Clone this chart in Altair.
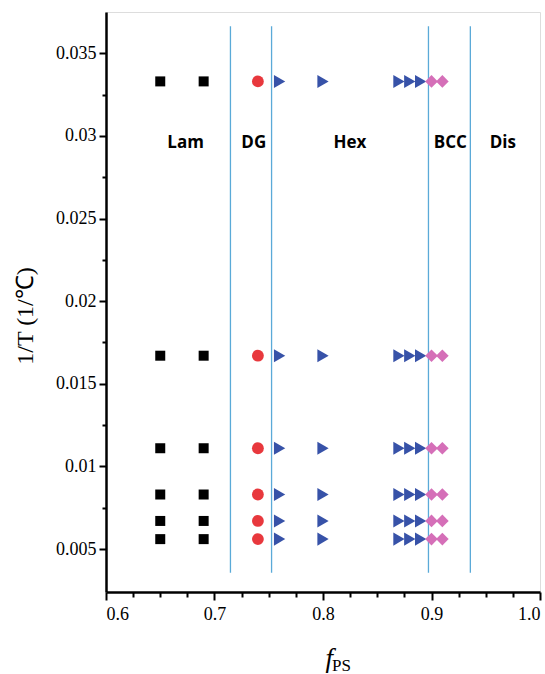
import altair as alt
import pandas as pd

# ---- data ----
inv_T = [0.0333, 0.0167, 0.0111, 0.0083, 0.0067, 0.0056]   # 1/T rows (30..180 C)
lam_x = [0.65, 0.69]
dg_x = [0.74]
hex_x = [0.76, 0.80, 0.87, 0.88, 0.89]
bcc_x = [0.90, 0.91]

boundary_x = [0.7147, 0.7526, 0.8972, 0.9358]
boundary_y0 = 0.00356
boundary_y1 = 0.03664

phase_names = ["Lam", "DG", "Hex", "BCC", "Dis"]
phase_label_x = [0.6734, 0.7362, 0.8248, 0.9174, 0.9658]
phase_label_y = 0.02955

x_major = [0.6, 0.7, 0.8, 0.9, 1.0]
x_minor = [0.625, 0.65, 0.675, 0.725, 0.75, 0.775, 0.825, 0.85, 0.875,
           0.925, 0.95, 0.975]
y_major = [0.005, 0.01, 0.015, 0.02, 0.025, 0.03, 0.035]
y_minor = [0.0075, 0.0125, 0.0175, 0.0225, 0.0275, 0.0325]

X_DOMAIN = [0.6, 1.0]
Y_DOMAIN = [0.0024, 0.0375]
W, H = 434, 580
SERIF = "Liberation Serif"

xs = alt.Scale(domain=X_DOMAIN, nice=False, zero=False)
ys = alt.Scale(domain=Y_DOMAIN, nice=False, zero=False)


def pts(xvals):
    return pd.DataFrame([{"f": x, "invT": y} for y in inv_T for x in xvals])


def point_layer(xvals, shape, color, size):
    return alt.Chart(pts(xvals)).mark_point(
        shape=shape, filled=True, color=color, opacity=1, size=size, strokeWidth=0
    ).encode(
        x=alt.X("f:Q", scale=xs, axis=None),
        y=alt.Y("invT:Q", scale=ys, axis=None),
    )


lam = point_layer(lam_x, "square", "#000000", 100)
dg = point_layer(dg_x, "circle", "#e8383d", 140)
hexl = point_layer(hex_x, "triangle-right", "#3752a8", 170)
bcc = point_layer(bcc_x, "diamond", "#d56fb8", 160)

rules_df = pd.DataFrame({"bx": boundary_x, "y0": [boundary_y0] * 4, "y1": [boundary_y1] * 4})
rules = alt.Chart(rules_df).mark_rule(color="#5aaad8", strokeWidth=1.3).encode(
    x=alt.X("bx:Q", scale=xs, axis=None),
    y=alt.Y("y0:Q", scale=ys, axis=None),
    y2="y1:Q",
)

lab_df = pd.DataFrame({"name": phase_names, "lx": phase_label_x, "ly": [phase_label_y] * 5})
labels = alt.Chart(lab_df).mark_text(
    font="Open Sans", fontWeight="bold", fontSize=17, color="black", baseline="middle"
).encode(
    x=alt.X("lx:Q", scale=xs, axis=None),
    y=alt.Y("ly:Q", scale=ys, axis=None),
    text="name:N",
)

axis_common = dict(
    grid=False, title=None, tickColor="black", domainColor="black", domainWidth=2.5,
    labelFont=SERIF, labelFontSize=18, labelColor="black", labelOverlap=False,
)

major_df = pd.DataFrame({"f": [0.6], "invT": [0.01]})
major = alt.Chart(major_df).mark_point(opacity=0).encode(
    x=alt.X("f:Q", scale=xs, axis=alt.Axis(values=x_major, format=".1f", tickSize=8,
                                             tickWidth=2, labelPadding=5, orient="bottom",
                                             labelFlush=True, **axis_common)),
    y=alt.Y("invT:Q", scale=ys, axis=alt.Axis(values=y_major, format="~g", tickSize=7,
                                                tickWidth=2, labelPadding=3, orient="left",
                                                labelFlush=False, **axis_common)),
)
minor = alt.Chart(major_df).mark_point(opacity=0).encode(
    x=alt.X("f:Q", scale=xs, axis=alt.Axis(values=x_minor, labels=False, tickSize=5,
                                             tickWidth=2, tickColor="black", domain=False,
                                             grid=False, title=None, orient="bottom")),
    y=alt.Y("invT:Q", scale=ys, axis=alt.Axis(values=y_minor, labels=False, tickSize=4,
                                                tickWidth=2, tickColor="black", domain=False,
                                                grid=False, title=None, orient="left")),
)

ytitle = alt.Chart(major_df).mark_text(
    text="1/T (1/℃)", font=SERIF, fontSize=24, angle=270,
    align="center", baseline="middle", color="black"
).encode(x=alt.value(-80), y=alt.value(304))

ftitle = alt.Chart(major_df).mark_text(
    text="f", font=SERIF, fontSize=27, fontStyle="italic",
    align="right", baseline="alphabetic", color="black"
).encode(x=alt.value(227), y=alt.value(655))

pstitle = alt.Chart(major_df).mark_text(
    text="PS", font=SERIF, fontSize=17,
    align="left", baseline="alphabetic", color="black"
).encode(x=alt.value(226), y=alt.value(659))

chart = alt.layer(
    rules, lam, dg, hexl, bcc, labels, major, minor, ytitle, ftitle, pstitle
).resolve_axis(x="independent", y="independent").properties(
    width=W, height=H,
    autosize=alt.AutoSizeParams(type="none"),
    padding={"left": 106, "top": 12, "right": 5, "bottom": 82},
).configure_view(stroke="black", strokeWidth=2.5).configure_axis(
    labelFont=SERIF, labelFontSize=18, labelColor="black"
).configure(background="white")

chart.save("out.html", embed_options={"renderer": "svg", "actions": False})
